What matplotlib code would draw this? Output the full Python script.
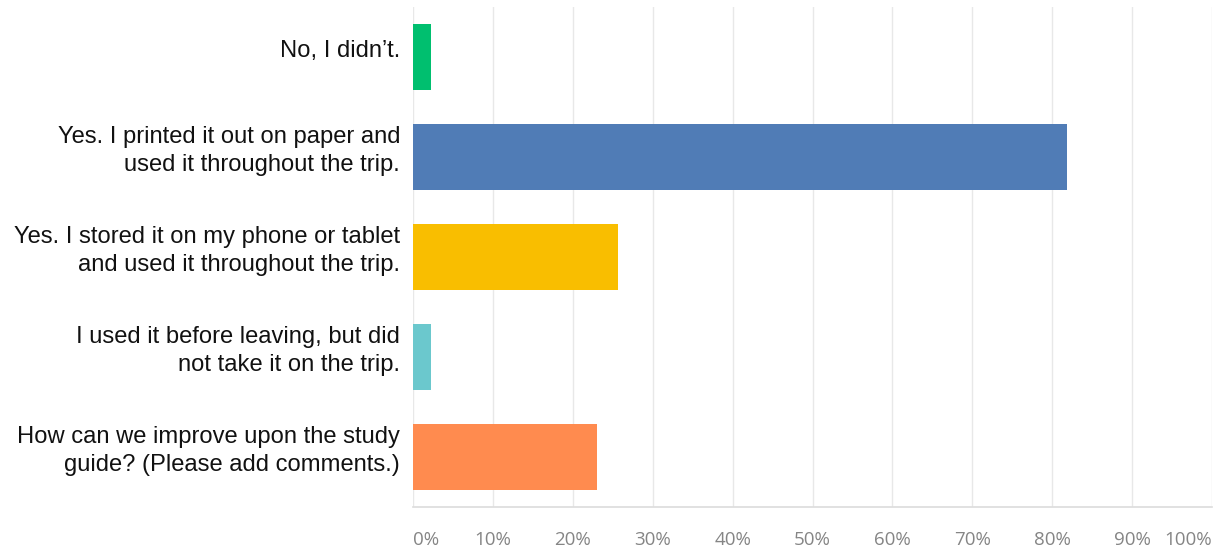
import matplotlib
matplotlib.use("Agg")
import matplotlib.pyplot as plt

categories = [
    "No, I didn\u2019t.",
    "Yes. I printed it out on paper and\nused it throughout the trip.",
    "Yes. I stored it on my phone or tablet\nand used it throughout the trip.",
    "I used it before leaving, but did\nnot take it on the trip.",
    "How can we improve upon the study\nguide? (Please add comments.)",
]
values = [2.3, 81.8, 25.6, 2.3, 23.0]
colors = ["#00BF6F", "#507CB6", "#F9BE00", "#6BC8CD", "#FF8B4F"]
xticks = [0, 10, 20, 30, 40, 50, 60, 70, 80, 90, 100]
xtick_labels = [f"{t}%" for t in xticks]

W, H = 1217, 550
fig = plt.figure(figsize=(W / 100, H / 100), dpi=100)
ax = fig.add_axes([413 / W, 43 / H, 799 / W, 500 / H])

y = list(range(len(categories)))
ax.barh(y, values, height=0.66, color=colors, zorder=3)
ax.set_xlim(0, 100)
ax.set_ylim(len(categories) - 0.5, -0.5)

ax.set_xticks(xticks)
ax.set_xticklabels(xtick_labels, fontfamily="Open Sans", fontsize=13.5, color="#858585")
labs = ax.get_xticklabels()
labs[0].set_horizontalalignment("left")
labs[-1].set_horizontalalignment("right")
ax.tick_params(axis="x", length=0, pad=17)
ax.set_yticks([])

ax.grid(axis="x", color="#e8e8e8", linewidth=1, zorder=0)
for s in ["top", "right", "left"]:
    ax.spines[s].set_visible(False)
ax.spines["bottom"].set_color("#dcdcdc")
ax.spines["bottom"].set_linewidth(1.2)

for i, lab in enumerate(categories):
    ax.annotate(lab, xy=(0, i), xycoords=("axes fraction", "data"),
                xytext=(-13, 6), textcoords="offset pixels",
                ha="right", va="center", fontsize=17.1,
                fontfamily="Liberation Sans", color="#111111",
                multialignment="right", linespacing=1.35)

fig.savefig("out.png", dpi=100, facecolor="white")
